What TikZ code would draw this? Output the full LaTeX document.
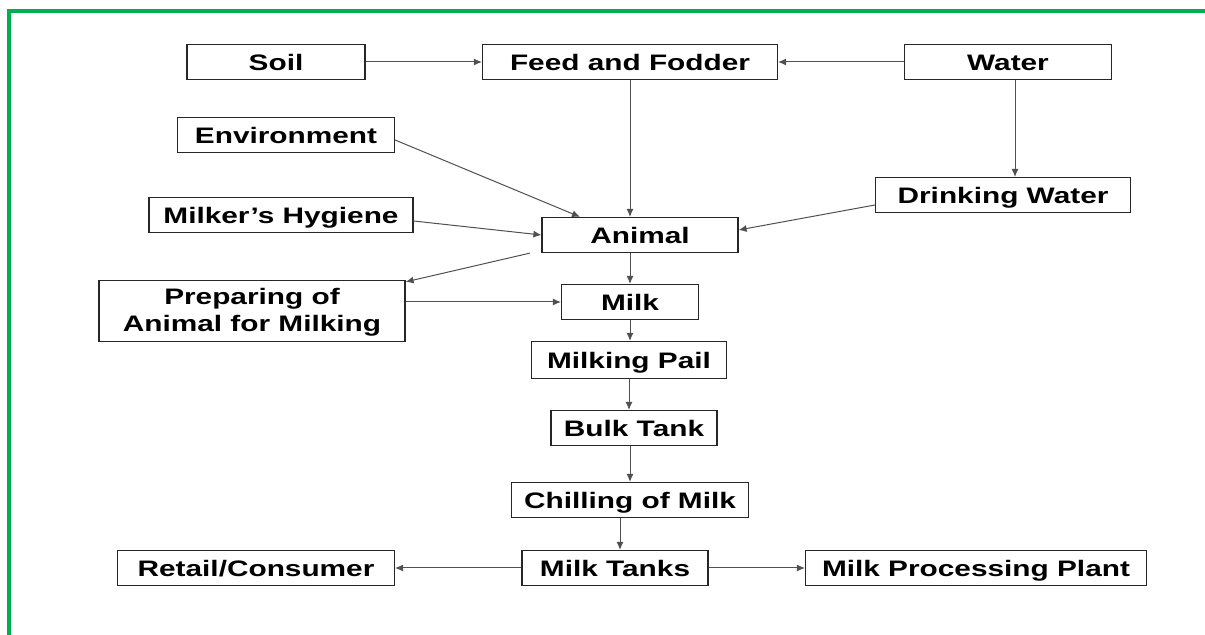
\documentclass[tikz,border=0pt]{standalone}
\usepackage{fontspec}
\setmainfont{Liberation Sans}[FakeStretch=1.33]
\usepackage{tikz}
\usetikzlibrary{arrows.meta}
\definecolor{frame-green}{HTML}{00B050}
\definecolor{arrow-gray}{HTML}{505050}
\tikzset{
    flow-box/.style = {draw=black!85, fill=white, line width=0.6pt, rectangle, inner sep=2pt, minimum height=17.5pt, text height=10pt, text depth=1pt, font=\bfseries\fontsize{11.2}{13.5}\selectfont},
    flow-arrow/.style = {draw=arrow-gray, line width=0.5pt, -{Latex[length=4pt,width=3.5pt]}},
}

\begin{document}
\begin{tikzpicture}[x=0.5pt, y=-0.5pt]
\useasboundingbox (0,0) rectangle (1205,635);
\draw[frame-green, line width=2pt] (9,640) -- (9,11) -- (1210,11);
% sources
\node[flow-box, minimum width=89pt] (soil) at (276,62) {Soil};
\node[flow-box, minimum width=147.5pt] (feed) at (630,62) {Feed and Fodder};
\node[flow-box, minimum width=103.5pt] (water) at (1008,62) {Water};
\node[flow-box, minimum width=108.5pt] (env) at (286,135) {Environment};
\node[flow-box, minimum width=127.5pt] (drink) at (1003,195) {Drinking Water};
\node[flow-box, minimum width=132pt] (hygiene) at (281,215) {Milker’s Hygiene};
\node[flow-box, minimum width=98pt] (animal) at (640,235) {Animal};
\node[flow-box, minimum width=153pt, minimum height=30.5pt, text height=23.5pt, text depth=3pt, align=center] (prep) at (252,311) {Preparing of\\Animal for Milking};
% milk chain
\node[flow-box, minimum width=68.5pt] (milk) at (630,302) {Milk};
\node[flow-box, minimum width=97.5pt, minimum height=18.5pt] (pail) at (629,360) {Milking Pail};
\node[flow-box, minimum width=83pt] (bulk) at (634,428) {Bulk Tank};
\node[flow-box, minimum width=118.5pt] (chill) at (630,500) {Chilling of Milk};
\node[flow-box, minimum width=93pt] (tanks) at (615,568) {Milk Tanks};
\node[flow-box, minimum width=138.5pt] (retail) at (256,568) {Retail/Consumer};
\node[flow-box, minimum width=170.5pt] (plant) at (976,568) {Milk Processing Plant};
% arrows
\draw[flow-arrow] (soil) -- (feed);
\draw[flow-arrow] (water) -- (feed);
\draw[flow-arrow] (feed.south) -- (feed.south |- animal.north);
\draw[flow-arrow] ([xshift=3.5pt]water.south) -- ([xshift=3.5pt]water.south |- drink.north);
\draw[flow-arrow] ([yshift=-2.5pt]env.east) -- ([xshift=-30pt]animal.north);
\draw[flow-arrow] ([yshift=-3pt]hygiene.east) -- (animal.west);
\draw[flow-arrow] ([yshift=-5pt]drink.west) -- ([yshift=2.5pt]animal.east);
\draw[flow-arrow] ([xshift=-55pt]animal.south) -- ([yshift=-1pt]prep.north east);
\draw[flow-arrow] (animal.south -| milk.north) -- (milk.north);
\draw[flow-arrow] (prep.east |- milk) -- (milk.west);
\draw[flow-arrow] (milk.south) -- (milk.south |- pail.north);
\draw[flow-arrow] (pail.south) -- (pail.south |- bulk.north);
\draw[flow-arrow] (bulk.south -| chill.north) -- (chill.north);
\draw[flow-arrow] ([xshift=2.5pt]tanks.north |- chill.south) -- ([xshift=2.5pt]tanks.north);
\draw[flow-arrow] (tanks) -- (retail);
\draw[flow-arrow] (tanks) -- (plant);
\end{tikzpicture}
\end{document}
